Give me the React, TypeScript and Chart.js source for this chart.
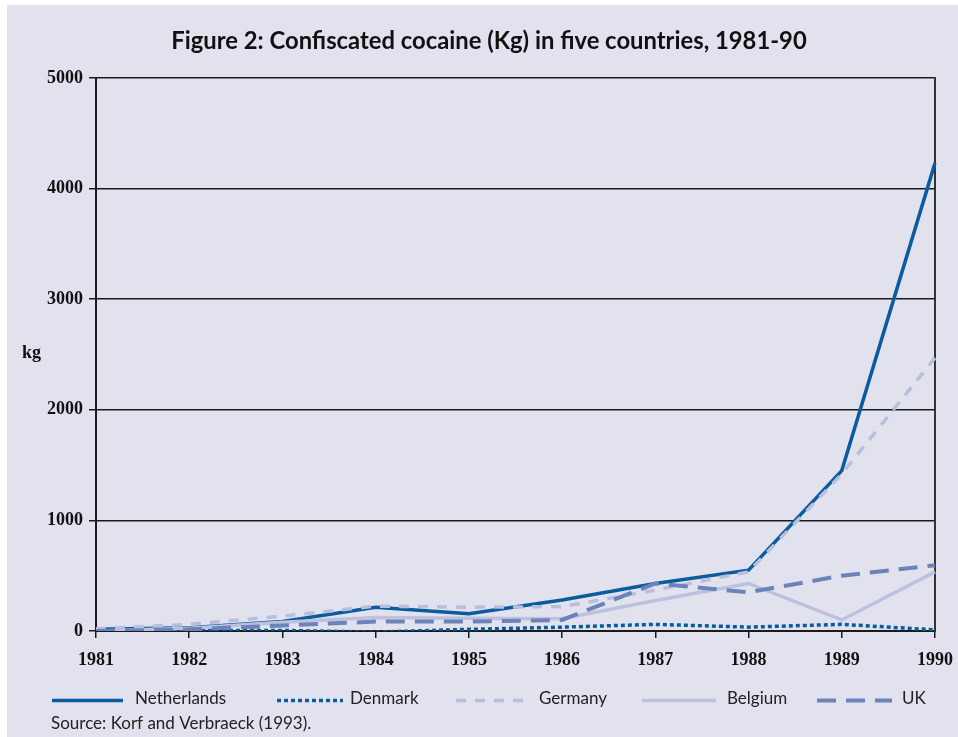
import React, { useEffect, useRef } from "react";
import { Chart, registerables } from "chart.js";

Chart.register(...registerables);

const years = ["1981", "1982", "1983", "1984", "1985", "1986", "1987", "1988", "1989", "1990"];
const netherlands = [15, 30, 85, 215, 155, 280, 430, 550, 1450, 4230];
const denmark = [0, 5, 5, -10, 15, 35, 60, 35, 60, 10];
const germany = [20, 60, 135, 225, 215, 220, 370, 535, 1420, 2470];
const belgium = [0, 25, 80, 123, 115, 110, 275, 430, 100, 535];
const uk = [0, 15, 50, 85, 85, 100, 430, 350, 500, 595];
const yTickValues = [0, 1000, 2000, 3000, 4000, 5000];

const titleText = "Figure 2: Confiscated cocaine (Kg) in five countries, 1981-90";
const yAxisLabel = "kg";
const sourceText = "Source: Korf and Verbraeck (1993).";

const BG = "#e2e2ee";
const INK = "#1a1a1a";

// legend layout (pixel positions of each entry's sample line and label)
const LEGEND_Y = 700.5;
const LEGEND_LINE_X = [52, 277, 456, 642, 817];
const LEGEND_LINE_W = [71, 66, 73, 74, 75];
const LEGEND_TEXT_X = [135, 350, 539, 727, 902];

const decorPlugin = {
  id: "decor",
  beforeDraw(chart: any) {
    const { ctx, width, height } = chart;
    ctx.save();
    ctx.fillStyle = "#ffffff";
    ctx.fillRect(0, 0, width, height);
    ctx.fillStyle = BG;
    ctx.fillRect(7, 5, width - 7, height - 5);
    ctx.restore();
  },
  afterDraw(chart: any) {
    const { ctx } = chart;
    ctx.save();
    // y axis caption
    ctx.fillStyle = "#111";
    ctx.font = "bold 18px 'Liberation Serif'";
    ctx.textAlign = "left";
    ctx.textBaseline = "alphabetic";
    ctx.fillText(yAxisLabel, 22, 358);
    // legend
    chart.data.datasets.forEach((ds: any, i: number) => {
      const x0 = LEGEND_LINE_X[i];
      ctx.save();
      ctx.strokeStyle = ds.borderColor;
      ctx.lineWidth = ds.borderWidth;
      ctx.lineCap = "butt";
      ctx.setLineDash(ds.borderDash || []);
      ctx.beginPath();
      ctx.moveTo(x0, LEGEND_Y);
      ctx.lineTo(x0 + LEGEND_LINE_W[i], LEGEND_Y);
      ctx.stroke();
      ctx.restore();
      ctx.fillStyle = "#222";
      ctx.font = "17px Lato";
      ctx.textBaseline = "middle";
      ctx.fillText(ds.label, LEGEND_TEXT_X[i], 699);
    });
    // source
    ctx.textBaseline = "alphabetic";
    ctx.fillStyle = "#222";
    ctx.font = "17px Lato";
    ctx.fillText(sourceText, 51, 729);
    ctx.restore();
  },
};

export default function App() {
  const ref = useRef<HTMLCanvasElement | null>(null);

  useEffect(() => {
    document.body.style.margin = "0";
    const canvas = ref.current;
    if (!canvas) return;
    const yTickFont = { family: "'Liberation Serif'", weight: "bold" as const, size: 18 };
    const xTickFont = { family: "'Liberation Serif'", weight: "bold" as const, size: 18, lineHeight: 2.03 };
    const chart = new Chart(canvas, {
      type: "line",
      data: {
        labels: years,
        datasets: [
          { label: "Netherlands", data: netherlands, borderColor: "#0b5c9e", borderWidth: 3.5, borderDash: [], order: 5 },
          { label: "Denmark", data: denmark, borderColor: "#0b5c9e", borderWidth: 3.5, borderDash: [4, 3], order: 4 },
          { label: "Germany", data: germany, borderColor: "#b8bedf", borderWidth: 3.5, borderDash: [10, 9], order: 3 },
          { label: "Belgium", data: belgium, borderColor: "#bcc1de", borderWidth: 3.5, borderDash: [], order: 2 },
          { label: "UK", data: uk, borderColor: "#6c83ba", borderWidth: 4, borderDash: [19, 10], order: 1 },
        ].map((d) => ({ ...d, backgroundColor: d.borderColor, pointRadius: 0, pointHoverRadius: 0, tension: 0, fill: false })),
      },
      options: {
        responsive: false,
        animation: false,
        devicePixelRatio: 1,
        layout: { padding: { left: 20, right: 0, top: 0, bottom: 60 } },
        plugins: {
          title: {
            display: true,
            text: titleText,
            color: "#111",
            font: { family: "Lato", weight: "bold", size: 23.8, lineHeight: 1.2 },
            padding: { top: 26.7, bottom: 22.7 },
          },
          legend: { display: false },
          tooltip: { enabled: false },
        },
        scales: {
          x: {
            type: "category",
            offset: false,
            grid: { drawOnChartArea: false, drawTicks: true, tickLength: 7, color: INK, lineWidth: 1.5 },
            border: { display: true, color: INK, width: 2 },
            ticks: { font: xTickFont, color: "#111", padding: 4, maxRotation: 0, autoSkip: false },
            afterFit: (s: any) => {
              s.height = 46;
            },
          },
          y: {
            min: 0,
            max: 5000,
            afterBuildTicks: (s: any) => {
              s.ticks = yTickValues.map((v) => ({ value: v }));
            },
            ticks: { font: yTickFont, color: "#111", padding: 6, callback: (v: any) => String(v) },
            grid: { color: INK, lineWidth: 1.5, drawTicks: true, tickLength: 7 },
            border: { display: true, color: INK, width: 2 },
            afterFit: (s: any) => {
              s.width = 76;
            },
          },
          y2: {
            position: "right",
            min: 0,
            max: 5000,
            ticks: { display: false },
            grid: { drawOnChartArea: false, drawTicks: false },
            border: { display: true, color: "#333", width: 2 },
            afterFit: (s: any) => {
              s.width = 23;
            },
          },
        },
      },
      plugins: [decorPlugin],
    });
    return () => chart.destroy();
  }, []);

  return (
    <div style={{ width: 958, height: 737 }}>
      <canvas ref={ref} width={958} height={737} style={{ display: "block" }} />
    </div>
  );
}
